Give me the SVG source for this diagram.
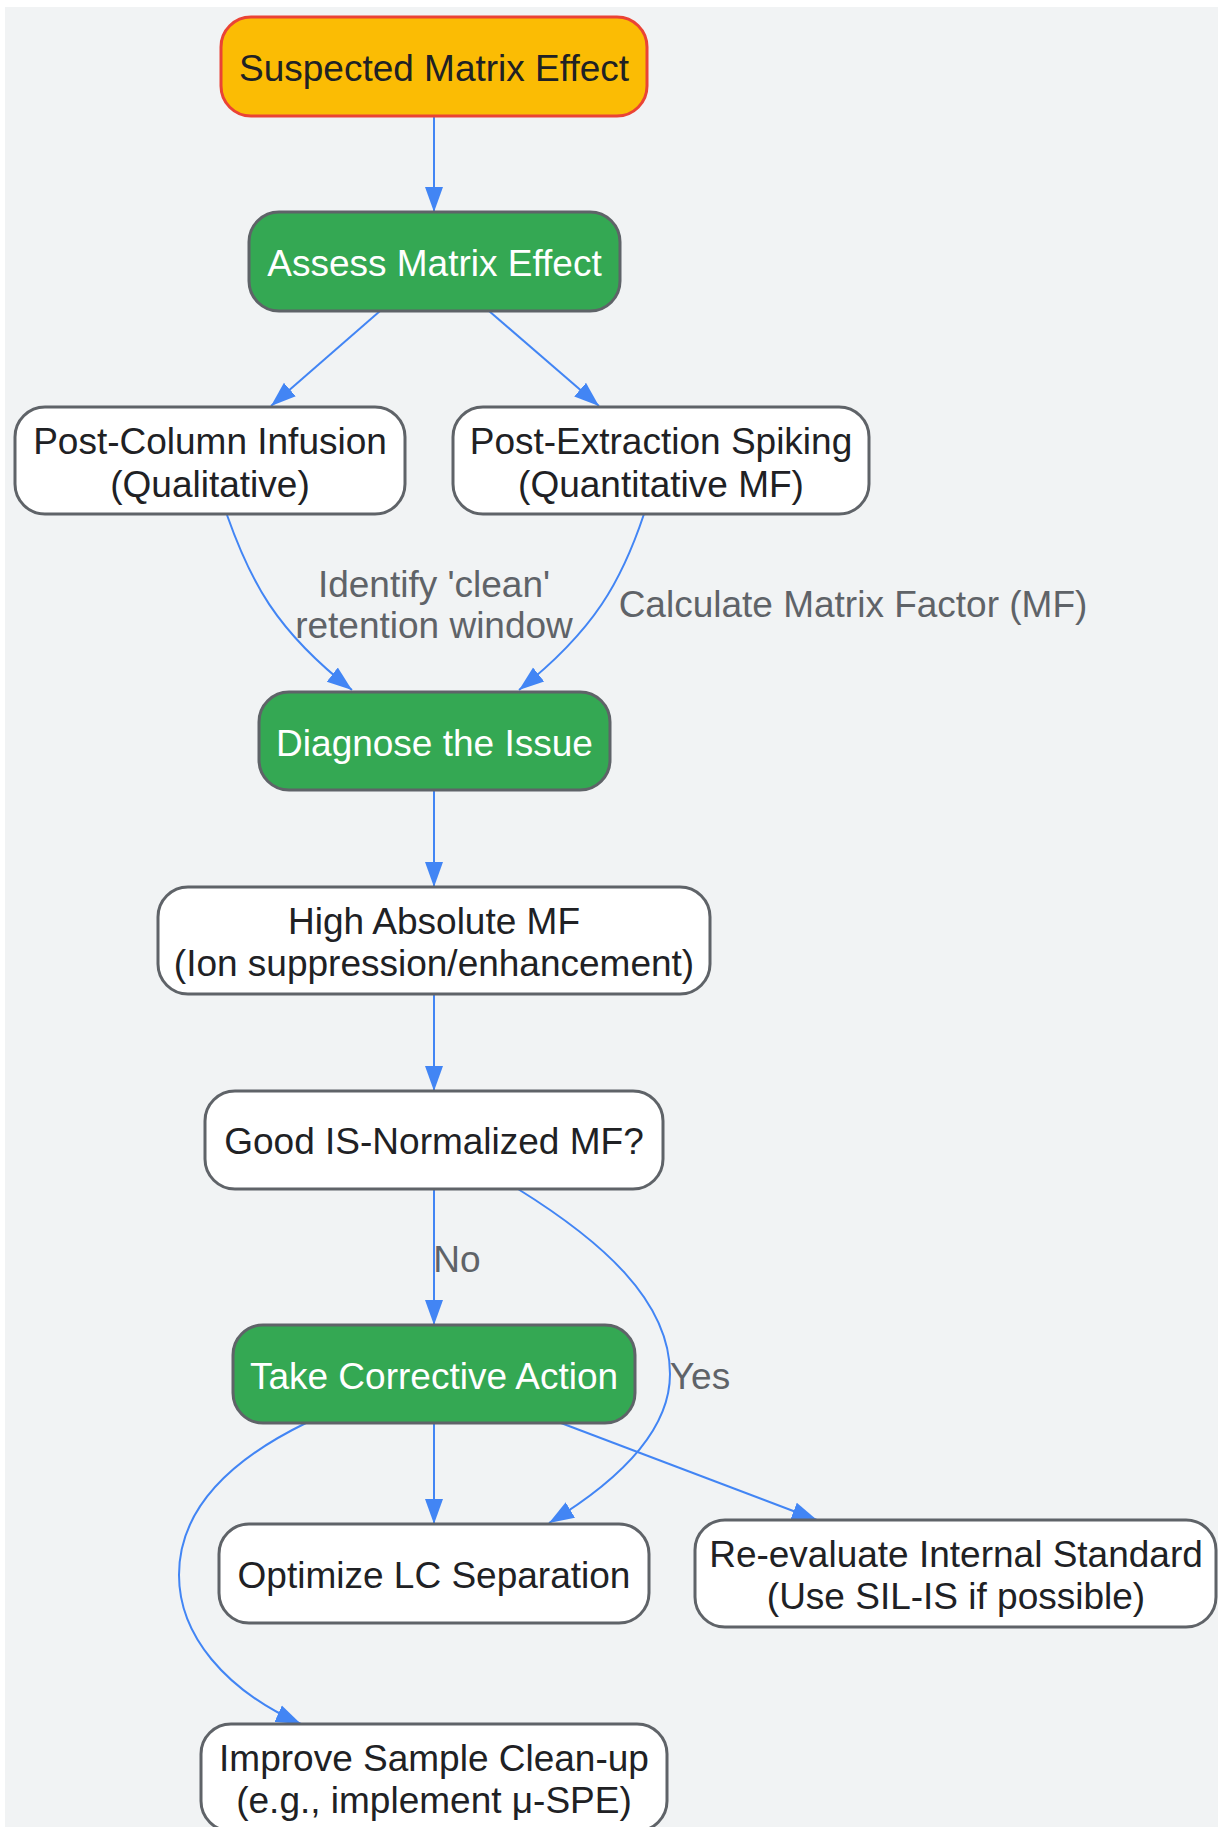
<svg xmlns="http://www.w3.org/2000/svg" width="1218" height="1827" viewBox="0 0 1218 1827">
<style>
text{font-family:"Liberation Sans",Arial,sans-serif;font-size:37px;text-anchor:middle}
.n{fill:#ffffff;stroke:#5f6368;stroke-width:3}
.g{fill:#34a853;stroke:#5f6368;stroke-width:3}
.y{fill:#fbbc04;stroke:#ea4335;stroke-width:3}
.d{fill:#202124}
.w{fill:#ffffff}
.l{fill:#5f6368}
.e{fill:none;stroke:#4285f4;stroke-width:2;marker-end:url(#ah)}
</style>
<defs>
<marker id="ah" markerUnits="userSpaceOnUse" markerWidth="26" markerHeight="20" viewBox="0 0 26 20" refX="25" refY="10" orient="auto">
<path d="M0,1 L25,10 L0,19 z" fill="#4285f4"/>
</marker>
</defs>
<rect x="0" y="0" width="1218" height="1827" fill="#ffffff"/>
<rect x="5" y="7" width="1213" height="1820" fill="#f1f3f4"/>
<g id="connectors">
<path class="e" d="M434,116 L434,212"/>
<path class="e" d="M380,311 L271,406"/>
<path class="e" d="M489,311 L599,406"/>
<path class="e" d="M227,515 C250,580 275,630 352,690"/>
<path class="e" d="M644,514 C622,580 595,630 519,690"/>
<path class="e" d="M434,791 L434,887"/>
<path class="e" d="M434,995 L434,1091"/>
<path class="e" d="M434,1189 L434,1325"/>
<path class="e" d="M518,1189 C600,1240 670,1300 670,1374 C670,1430 620,1480 549,1523"/>
<path class="e" d="M434,1423 L434,1524"/>
<path class="e" d="M561,1423 L817,1520"/>
<path class="e" d="M306,1423 C220,1465 179,1515 179,1575 C179,1635 225,1690 301,1724"/>
<text class="l" x="434" y="597">Identify 'clean'</text>
<text class="l" x="434" y="638">retention window</text>
<text class="l" x="853" y="617">Calculate Matrix Factor (MF)</text>
<text class="l" x="457" y="1272">No</text>
<text class="l" x="700" y="1389">Yes</text>
</g>
<g id="n1"><rect class="y" x="221" y="17" width="426" height="99" rx="30"/><text class="d" x="434" y="81">Suspected Matrix Effect</text></g>
<g id="n2"><rect class="g" x="249" y="212" width="371" height="99" rx="30"/><text class="w" x="434.5" y="276">Assess Matrix Effect</text></g>
<g id="n3"><rect class="n" x="15" y="407" width="390" height="107" rx="30"/><text class="d" x="210" y="454">Post-Column Infusion</text><text class="d" x="210" y="497">(Qualitative)</text></g>
<g id="n4"><rect class="n" x="453" y="407" width="416" height="107" rx="30"/><text class="d" x="661" y="454">Post-Extraction Spiking</text><text class="d" x="661" y="497">(Quantitative MF)</text></g>
<g id="n5"><rect class="g" x="259" y="692" width="351" height="98" rx="30"/><text class="w" x="434.5" y="756">Diagnose the Issue</text></g>
<g id="n6"><rect class="n" x="158" y="887" width="552" height="107" rx="30"/><text class="d" x="434" y="934">High Absolute MF</text><text class="d" x="434" y="976">(Ion suppression/enhancement)</text></g>
<g id="n7"><rect class="n" x="205" y="1091" width="458" height="98" rx="30"/><text class="d" x="434" y="1154">Good IS-Normalized MF?</text></g>
<g id="n8"><rect class="g" x="233" y="1325" width="402" height="98" rx="30"/><text class="w" x="434" y="1389">Take Corrective Action</text></g>
<g id="n9"><rect class="n" x="219" y="1524" width="430" height="99" rx="30"/><text class="d" x="434" y="1588">Optimize LC Separation</text></g>
<g id="n10"><rect class="n" x="695" y="1520" width="521" height="107" rx="30"/><text class="d" x="956" y="1567">Re-evaluate Internal Standard</text><text class="d" x="956" y="1609">(Use SIL-IS if possible)</text></g>
<g id="n11"><rect class="n" x="201" y="1724" width="466" height="107" rx="30"/><text class="d" x="434" y="1771">Improve Sample Clean-up</text><text class="d" x="434" y="1813">(e.g., implement μ-SPE)</text></g>
</svg>
